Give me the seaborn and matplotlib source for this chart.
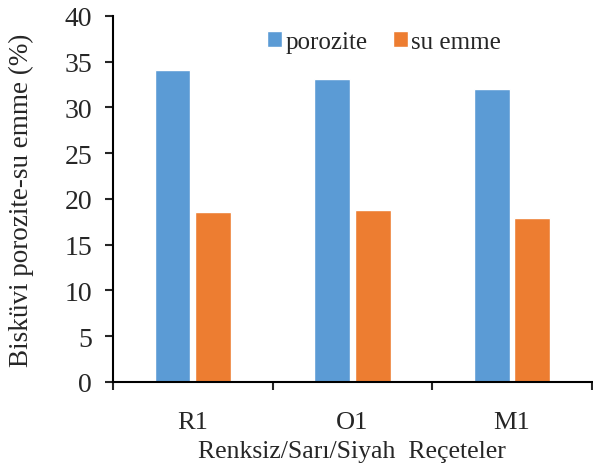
import matplotlib
matplotlib.use("Agg")
import matplotlib.pyplot as plt
import seaborn as sns
import pandas as pd

categories = ["R1", "O1", "M1"]
porozite = [34.1, 33.1, 32.0]
su_emme = [18.6, 18.75, 17.9]
series_names = ["porozite", "su emme"]
colors = ["#5B9BD5", "#ED7D31"]
yticks = [0, 5, 10, 15, 20, 25, 30, 35, 40]

sns.set_style("white")
plt.rcParams['font.family'] = ['Liberation Serif', 'DejaVu Serif']

df = pd.DataFrame({
    "cat": categories * 2,
    "val": porozite + su_emme,
    "series": [series_names[0]] * 3 + [series_names[1]] * 3,
})

fig = plt.figure(figsize=(5.93, 4.64), dpi=100)
ax = fig.add_axes([0.1906, 0.1746, 0.8074, 0.7888])
sns.barplot(data=df, x="cat", y="val", hue="series", palette=colors,
            width=0.51, gap=0.12, ax=ax, errorbar=None, saturation=1)

ax.set_ylim(0, 40)
ax.set_xlim(-0.5, 2.5)
ax.set_yticks(yticks)
ax.set_yticklabels([str(t) for t in yticks], fontsize=20)
ax.set_xticks([0, 1, 2])
ax.set_xticklabels(categories, fontsize=19)
ax.tick_params(axis='x', length=0, pad=21)
ax.tick_params(axis='y', length=6, width=1.5, direction='out', left=True, pad=9)
# category boundary ticks
ax.set_xticks([-0.5, 0.5, 1.5, 2.5], minor=True)
ax.tick_params(axis='x', which='minor', length=6, width=1.5, direction='out', bottom=True)

for s in ["top", "right"]:
    ax.spines[s].set_visible(False)
for s in ["left", "bottom"]:
    ax.spines[s].set_color("black")
    ax.spines[s].set_linewidth(1.5)

ax.set_xlabel("Renksiz/Sarı/Siyah  Reçeteler", fontsize=18.5, labelpad=5)
ax.set_ylabel("Bisküvi porozite-su emme (%)", fontsize=19.5, labelpad=22)

leg = ax.legend(loc="center", bbox_to_anchor=(0.566, 0.93), ncol=2, frameon=False,
                fontsize=18, handlelength=0.6, handleheight=0.6, handletextpad=0.15,
                columnspacing=1.0)

fig.savefig("out.png", dpi=100)
